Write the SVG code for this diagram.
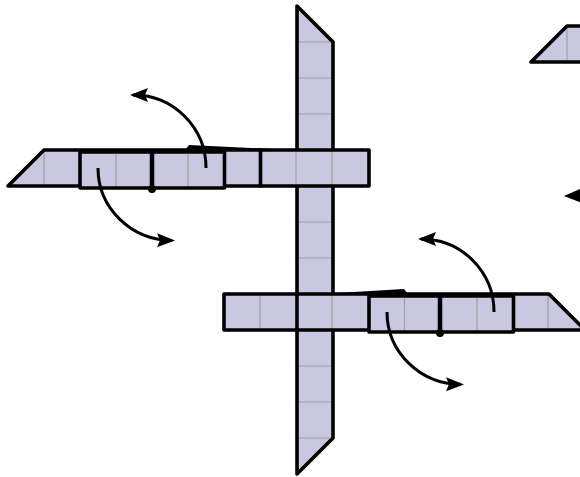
<svg xmlns="http://www.w3.org/2000/svg" width="580" height="477" viewBox="0 0 580 477">
<style>
.fill{fill:#c8c8e0;stroke:none}
.grid{stroke:#a0a0a0;stroke-width:1.200;fill:none}
.edge{fill:none;stroke:#000;stroke-width:3.600;stroke-linejoin:round;stroke-linecap:round}
.door{fill:#c8c8e0;stroke:#000;stroke-width:3.600;stroke-linejoin:round}
.leaf{stroke:#000;stroke-width:4.500;fill:none}
.arc{fill:none;stroke:#000;stroke-width:3;marker-end:url(#a)}
</style>
<defs>
<marker id="a" markerUnits="userSpaceOnUse" markerWidth="20" markerHeight="16" refX="15" refY="7" orient="auto" viewBox="0 0 20 14"><path d="M0 0L18 7L0 14L3 7Z" fill="#000"/></marker>
</defs>
<g id="vertical-bar">
<path class="fill" d="M297 6L333 42V438L297 474Z"/>
<path class="grid" d="M297 42H333M297 78H333M297 114H333M297 222H333M297 258H333M297 366H333M297 402H333M297 438H333"/>
<path class="edge" d="M297 150V6L333 42V150M333 186V294M297 294V186M297 330V474L333 438V330"/>
</g>
<g id="left-bar">
<path class="fill" d="M8 186L44 150H369V186Z"/>
<path class="grid" d="M44 150V186M116 150V186M188 150V186M296 150V186M332 150V186"/>
<path d="M185 150L189 145L285 149.500Z" fill="#000"/>
<path class="edge" d="M8 186L44 150H369V186H8Z"/>
<path class="edge" d="M260.500 150V186"/>
<rect class="door" x="80" y="152" width="144.500" height="36"/>
<path class="grid" d="M116 154V186M188 154V186"/>
<path class="leaf" d="M152 151V188"/>
<circle cx="152" cy="189" r="4" fill="#000"/>
</g>
<g id="right-bar">
<path class="fill" d="M224 294H549L585 330H224Z"/>
<path class="grid" d="M260 294V330M332 294V330M404 294V330M476 294V330M548 294V330"/>
<path d="M320 294L404 289L408 294Z" fill="#000"/>
<path class="edge" d="M224 294H549L585 330H224Z"/>
<path class="edge" d="M297 294V330"/>
<rect class="door" x="369" y="296" width="144.500" height="36"/>
<path class="grid" d="M404.500 298V330M477 298V330"/>
<path class="leaf" d="M440 295V332"/>
<circle cx="440" cy="333" r="4" fill="#000"/>
</g>
<g id="top-right-bar">
<path class="fill" d="M531 62L567 26H600V62Z"/>
<path class="grid" d="M567 26V62"/>
<path class="edge" d="M600 26H567L531 62H600"/>
</g>
<g id="connectors">
<path class="arc" d="M206 168C206 128 174 95 133 95"/>
<path class="arc" d="M98 168C98 208 131 240 172 240.500"/>
<path class="arc" d="M494 312C494 272 462 239 421 239"/>
<path class="arc" d="M387 312C387 352 420 384 461 384.500"/>
<path d="M564 196L582 188L580 196L582 203Z" fill="#000"/>
</g>
</svg>
